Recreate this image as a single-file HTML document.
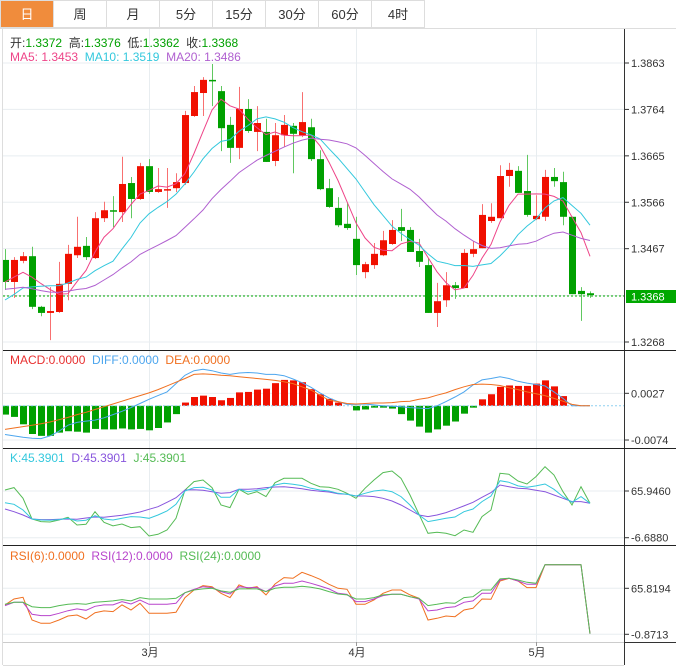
<!DOCTYPE html>
<html><head><meta charset="utf-8">
<style>
html,body{margin:0;padding:0;background:#fff;}
body{width:676px;height:671px;overflow:hidden;font-family:"Liberation Sans","Noto Sans CJK SC",sans-serif;}
svg{display:block;}
</style></head>
<body>
<svg id="chart" width="676" height="671" viewBox="0 0 676 671" xmlns="http://www.w3.org/2000/svg" font-family="Liberation Sans, Noto Sans CJK SC, sans-serif">
  <g id="tabs"></g>
  <g id="grid"></g>
  <g id="main"></g>
  <g id="macd"></g>
  <g id="kdj"></g>
  <g id="rsi"></g>
  <g id="axes"></g>
</svg>
<script>
const tabLabels = ["日","周","月","5分","15分","30分","60分","4时"];
const opens  = [1.3443,1.3396,1.3441,1.3451,1.3343,1.3330,1.3332,1.3392,1.3453,1.3473,1.3447,1.3532,1.3549,1.3545,1.3607,1.3573,1.3643,1.3588,1.3592,1.3596,1.3607,1.3750,1.3799,1.3827,1.3803,1.3731,1.3682,1.3765,1.3716,1.3716,1.3654,1.3709,1.3729,1.3709,1.3726,1.3658,1.3596,1.3554,1.3520,1.3488,1.3417,1.3432,1.3453,1.3477,1.3513,1.3507,1.3462,1.3432,1.3330,1.3357,1.3389,1.3383,1.3456,1.3468,1.3526,1.3532,1.3622,1.3633,1.3590,1.3530,1.3535,1.3620,1.3609,1.3535,1.3377,1.3372];
const highs  = [1.3466,1.3449,1.3460,1.3471,1.3345,1.3385,1.3439,1.3475,1.3535,1.3492,1.3545,1.3567,1.3579,1.3663,1.3620,1.3650,1.3658,1.3639,1.3639,1.3628,1.3761,1.3814,1.3833,1.3861,1.3814,1.3748,1.3812,1.3786,1.3771,1.3744,1.3735,1.3752,1.3735,1.3801,1.3744,1.3677,1.3616,1.3577,1.3564,1.3535,1.3439,1.3479,1.3505,1.3528,1.3552,1.3513,1.3488,1.3447,1.3394,1.3417,1.3396,1.3466,1.3483,1.3562,1.3564,1.3645,1.3650,1.3643,1.3667,1.3581,1.3635,1.3639,1.3631,1.3535,1.3385,1.3376];
const lows   = [1.3379,1.3362,1.3436,1.3338,1.3323,1.3272,1.3330,1.3357,1.3447,1.3443,1.3445,1.3524,1.3513,1.3524,1.3532,1.3571,1.3584,1.3586,1.3554,1.3588,1.3603,1.3748,1.3750,1.3771,1.3675,1.3650,1.3658,1.3714,1.3675,1.3652,1.3643,1.3684,1.3628,1.3705,1.3654,1.3592,1.3554,1.3513,1.3507,1.3411,1.3404,1.3424,1.3451,1.3475,1.3483,1.3460,1.3428,1.3330,1.3300,1.3343,1.3360,1.3383,1.3449,1.3468,1.3522,1.3532,1.3599,1.3586,1.3535,1.3528,1.3526,1.3599,1.3517,1.3370,1.3313,1.3362];
const closes = [1.3396,1.3443,1.3451,1.3343,1.3330,1.3334,1.3392,1.3456,1.3471,1.3449,1.3532,1.3549,1.3547,1.3605,1.3573,1.3643,1.3588,1.3594,1.3594,1.3609,1.3752,1.3801,1.3827,1.3825,1.3724,1.3682,1.3765,1.3718,1.3735,1.3652,1.3709,1.3731,1.3712,1.3737,1.3658,1.3594,1.3556,1.3517,1.3511,1.3432,1.3434,1.3456,1.3485,1.3507,1.3505,1.3460,1.3439,1.3330,1.3355,1.3389,1.3383,1.3458,1.3466,1.3539,1.3535,1.3622,1.3635,1.3586,1.3539,1.3537,1.3620,1.3611,1.3535,1.3370,1.3370,1.3368];
const priorCloses = [1.3410,1.3398,1.3405,1.3412,1.3400,1.3395,1.3408,1.3403,1.3406,1.3399,1.3322,1.3315,1.3320,1.3318,1.3321,1.3390,1.3400,1.3395,1.3398];
const priceTicks = [1.3863,1.3764,1.3665,1.3566,1.3467,1.3268];
const macdHist = [-19,-24,-40,-61,-65,-65,-58,-55,-56,-58,-50,-51,-51,-49,-51,-50,-53,-48,-36,-18,7,19,22,19,12,17,29,30,35,37,49,56,55,51,36,25,15,7,0,-10,-8,-4,-4,-6,-18,-32,-45,-58,-51,-43,-34,-17,-4,14,25,41,44,43,43,48,55,42,21,0,0,0];
const macdDiff = [-62,-65,-68,-70,-71,-65,-55,-42,-36,-33,-31,-26,-19,-12,-4,5,14,22,30,48,66,76,79,76,71,68,71,72,71,68,68,65,58,50,40,28,17,9,3,3,4,2,0,-1,-2,-4,-5,-6,0,9,19,30,45,56,59,63,59,53,49,46,43,30,16,0,0,0];
const macdDea = [-51,-48,-45,-42,-39,-35,-30,-25,-19,-14,-8,-2,4,10,16,22,28,35,43,51,59,68,69,68,66,65,63,61,59,57,55,52,48,41,34,23,12,9,5,4,5,6,6,7,9,10,14,17,23,28,35,41,46,47,46,44,39,35,30,26,22,16,10,3,0,0];
const macdTicks = [0.0027,-0.0074];
const kVals = [47.8,45.2,36.4,22.4,20.9,20.4,21.4,23.5,19.3,20.4,27.6,22.4,20.9,23.5,26.1,25.5,23.5,28.7,34.9,45.2,66.0,71.2,71.7,67.5,56.1,56.1,68.6,64.9,67.0,68.6,75.3,77.9,76.3,74.3,70.1,67.5,66.0,62.3,60.8,58.2,62.3,66.0,67.5,64.9,57.2,44.2,28.7,18.3,20.9,23.5,25.5,33.8,38.0,49.4,58.2,82.0,79.4,73.8,71.7,73.8,76.9,68.6,57.2,48.4,57.2,46.8];
const dVals = [38.0,33.8,28.7,22.4,21.4,21.4,21.9,22.4,21.9,24.0,25.5,25.0,26.6,28.1,30.7,33.3,37.5,41.6,48.4,55.6,67.5,68.0,67.0,64.9,62.3,63.4,68.6,68.6,69.6,71.2,72.2,72.7,71.2,69.6,67.0,65.5,64.4,61.8,60.8,58.2,58.2,57.2,54.6,50.4,44.2,36.4,28.7,26.1,28.7,32.3,37.5,42.7,48.4,56.1,63.4,75.3,72.7,70.1,69.6,67.0,64.9,59.8,54.6,49.4,49.4,46.8];
const jVals = [67.5,71.2,54.6,22.4,18.3,17.8,20.9,25.0,13.1,14.1,33.8,17.3,11.6,14.7,9.0,10.5,-4.0,-1.4,5.3,23.5,67.5,80.5,83.1,71.2,44.2,40.1,68.6,60.8,64.9,57.2,78.9,85.7,85.7,85.7,77.9,72.7,71.7,68.6,62.3,54.6,70.1,83.1,94.5,97.1,85.7,59.8,29.7,0.2,1.7,0.2,-3.5,5.3,1.7,26.1,36.4,93.4,91.9,81.5,76.9,88.3,103.8,90.9,64.9,44.2,72.7,46.8];
const kdjTicks = [65.9460,-6.6880];
const rsi6 = [41.7,50.3,52.8,19.9,15.1,15.1,19.9,25.7,27.1,21.3,30.5,33.0,32.0,41.7,34.4,44.1,29.6,29.6,29.6,31.0,52.3,63.4,69.7,68.2,58.6,52.3,70.7,65.8,68.2,56.2,72.1,81.3,80.3,89.0,84.2,78.9,71.6,65.8,64.4,42.6,42.6,48.9,58.6,63.4,63.4,56.2,51.3,19.9,22.3,25.7,24.7,34.4,36.8,50.3,49.9,76.4,80.3,76.4,66.8,66.8,100,100,100,100,100,0];
const rsi12 = [40.7,45.5,45.5,28.1,26.2,26.2,29.6,33.4,35.9,33.9,39.7,41.7,41.7,46.5,43.1,48.9,42.6,42.6,42.6,44.1,59.5,64.4,68.2,66.8,61.0,57.6,68.2,66.8,66.8,61.0,69.2,73.1,73.1,76.4,73.1,69.2,64.9,58.6,57.1,46.5,46.5,50.3,55.2,57.1,57.1,53.7,50.3,33.0,34.4,37.8,39.2,45.5,47.5,58.6,58.6,77.9,80.3,76.4,71.6,71.6,100,100,100,100,100,0];
const rsi24 = [42.6,45.5,45.5,39.2,37.8,37.8,40.7,42.6,43.6,42.6,45.5,46.5,47.5,49.4,47.5,52.3,50.3,50.3,50.3,51.3,59.5,63.4,64.9,65.8,62.0,60.0,64.9,64.9,64.9,61.0,65.8,67.3,67.3,68.7,67.3,64.9,61.0,57.6,56.2,50.3,50.3,52.3,56.2,57.1,57.1,53.7,51.3,40.7,42.6,45.0,44.1,52.3,53.7,63.4,63.4,79.4,80.3,77.9,74.5,73.1,100,100,100,100,100,0];
const rsiTicks = [65.8194,-0.8713];
const monthLabels = ["3月","4月","5月"];
const monthIdx = [16,39,59];

const NS="http://www.w3.org/2000/svg";
function mk(parent,tag,attrs,text){const e=document.createElementNS(NS,tag);for(const k in attrs)e.setAttribute(k,attrs[k]);if(text!==undefined)e.textContent=text;parent.appendChild(e);return e;}
const X = i => 5 + 9*i;
const priceY = p => 63 + (1.3863 - p)*4689;
const macdY = v => 405.8 - v*4624;
const kdjY = v => 491 + (65.946 - v)/1.555;
const rsiY = v => 588.3 + (65.8194 - v)/1.45;

// tabs
const tabs=document.getElementById('tabs');
tabLabels.forEach((t,i)=>{
  const x=i*53;
  const r=mk(tabs,'rect',{x:x+0.5,y:0.5,width:53,height:27,fill:i===0?'#f08c3c':'#fff',stroke:'#ddd'});
  
  
  const tx=mk(tabs,'text',{x:x+27,y:19,'text-anchor':'middle','font-size':13,fill:i===0?'#fff':'#333'},t);
  
  
});
mk(tabs,'line',{x1:0,y1:28.5,x2:676,y2:28.5,stroke:'#ddd'});

// grid
const grid=document.getElementById('grid');
priceTicks.forEach(p=>mk(grid,'line',{x1:3,x2:624,y1:priceY(p),y2:priceY(p),stroke:'#e8edf0'}));
mk(grid,'line',{x1:3,x2:624,y1:295.5,y2:295.5,stroke:'#e8edf0'});
macdTicks.forEach(v=>mk(grid,'line',{x1:3,x2:624,y1:macdY(v*1),y2:macdY(v*1),stroke:'#e8edf0'}));
kdjTicks.forEach(v=>mk(grid,'line',{x1:3,x2:624,y1:kdjY(v),y2:kdjY(v),stroke:'#e8edf0'}));
rsiTicks.forEach(v=>mk(grid,'line',{x1:3,x2:624,y1:rsiY(v),y2:rsiY(v),stroke:'#e8edf0'}));
monthIdx.forEach(i=>mk(grid,'line',{x1:X(i)+0.5,x2:X(i)+0.5,y1:29,y2:642,stroke:'#e8edf0'}));

// main candles
const main=document.getElementById('main');
mk(main,'line',{x1:3,x2:624,y1:296,y2:296,stroke:'#00a800','stroke-dasharray':'2,2'});
closes.forEach((c,i)=>{
  const o=opens[i],up=c>=o,x=X(i);
  const col=up?'#f01000':'#00a000', wcol=up?'#f87070':'#60c860';
  const w=mk(main,'line',{x1:x+0.5,x2:x+0.5,y1:priceY(highs[i]),y2:priceY(lows[i]),stroke:wcol});
  
  
  const top=priceY(Math.max(o,c)),bot=priceY(Math.min(o,c));
  const b=mk(main,'rect',{x:x-3,y:top,width:7,height:Math.max(1.5,bot-top),fill:col});
  
  
});
const all=priorCloses.concat(closes);
function ma(n){return closes.map((_,i)=>{let s=0;for(let k=0;k<n;k++)s+=all[i+priorCloses.length-k];return s/n;});}
[[5,'#ee4488'],[10,'#33c8dd'],[20,'#b060d0']].forEach(([n,col])=>{
  const v=ma(n);
  const l=mk(main,'polyline',{points:v.map((p,i)=>X(i)+','+priceY(p).toFixed(1)).join(' '),fill:'none',stroke:col,'stroke-width':1});
  
  
});
let t1=mk(main,'text',{x:10,y:47,'font-size':12,fill:'#333'});
[['开:','1.3372'],['  高:','1.3376'],['  低:','1.3362'],['  收:','1.3368']].forEach(([a,b])=>{mk(t1,'tspan',{fill:'#333','xml:space':'preserve'},a.replace(/ /g,'\u00a0'));mk(t1,'tspan',{fill:'#00a000'},b);});


let t2=mk(main,'text',{x:10,y:61,'font-size':12});
mk(t2,'tspan',{fill:'#ee4488'},'MA5: 1.3453\u00a0\u00a0');mk(t2,'tspan',{fill:'#33c8dd'},'MA10: 1.3519\u00a0\u00a0');mk(t2,'tspan',{fill:'#b060d0'},'MA20: 1.3486');



// MACD
const macd=document.getElementById('macd');
macdHist.forEach((h,i)=>{
  const v=h*1e-4,y0=macdY(0),y1=macdY(v);
  const r=mk(macd,'rect',{x:X(i)-3,y:Math.min(y0,y1),width:7,height:Math.max(0.01,Math.abs(y1-y0)),fill:h>=0?'#f01000':'#00a000'});
  
  
});
mk(macd,'line',{x1:3,x2:624,y1:macdY(0),y2:macdY(0),stroke:'#8fd0f0','stroke-dasharray':'2,2'});
[[macdDiff,'#4da6ee','diff-line'],[macdDea,'#f07020','dea-line']].forEach(([arr,col,nm])=>{
  const l=mk(macd,'polyline',{points:arr.map((v,i)=>X(i)+','+macdY(v*1e-4).toFixed(1)).join(' '),fill:'none',stroke:col});
  
  
});
let t3=mk(macd,'text',{x:10,y:364,'font-size':12});
mk(t3,'tspan',{fill:'#e83030'},'MACD:0.0000\u00a0\u00a0');mk(t3,'tspan',{fill:'#4da6ee'},'DIFF:0.0000\u00a0\u00a0');mk(t3,'tspan',{fill:'#f07020'},'DEA:0.0000');



// KDJ
const kdj=document.getElementById('kdj');
[[jVals,'#55bb55','j-line'],[dVals,'#8855dd','d-line'],[kVals,'#33c8dd','k-line']].forEach(([arr,col,nm])=>{
  const l=mk(kdj,'polyline',{points:arr.map((v,i)=>X(i)+','+kdjY(v).toFixed(1)).join(' '),fill:'none',stroke:col});
  
  
});
let t4=mk(kdj,'text',{x:10,y:462,'font-size':12});
mk(t4,'tspan',{fill:'#33c8dd'},'K:45.3901\u00a0\u00a0');mk(t4,'tspan',{fill:'#8855dd'},'D:45.3901\u00a0\u00a0');mk(t4,'tspan',{fill:'#55bb55'},'J:45.3901');



// RSI
const rsi=document.getElementById('rsi');
[[rsi6,'#f07020','rsi6-line'],[rsi12,'#b844cc','rsi12-line'],[rsi24,'#55bb55','rsi24-line']].forEach(([arr,col,nm])=>{
  const l=mk(rsi,'polyline',{points:arr.map((v,i)=>X(i)+','+rsiY(v).toFixed(1)).join(' '),fill:'none',stroke:col});
  
  
});
let t5=mk(rsi,'text',{x:10,y:560,'font-size':12});
mk(t5,'tspan',{fill:'#f07020'},'RSI(6):0.0000\u00a0\u00a0');mk(t5,'tspan',{fill:'#b844cc'},'RSI(12):0.0000\u00a0\u00a0');mk(t5,'tspan',{fill:'#55bb55'},'RSI(24):0.0000');



// axes & separators
const axes=document.getElementById('axes');
mk(axes,'line',{x1:2.5,x2:2.5,y1:29,y2:665,stroke:'#ddd'});
mk(axes,'line',{x1:624.5,x2:624.5,y1:29,y2:665,stroke:'#333'});
[350,448,545].forEach(y=>mk(axes,'line',{x1:3,x2:676,y1:y+0.5,y2:y+0.5,stroke:'#222'}));
mk(axes,'line',{x1:3,x2:624,y1:642.5,y2:642.5,stroke:'#ccc'});
mk(axes,'line',{x1:3,x2:624,y1:665.5,y2:665.5,stroke:'#ddd'});
mk(axes,'line',{x1:624,x2:676,y1:642.5,y2:642.5,stroke:'#333'});
function ytick(y,label){
  mk(axes,'line',{x1:625,x2:629,y1:y,y2:y,stroke:'#333'});
  const t=mk(axes,'text',{x:631,y:y+4,'font-size':11,fill:'#333'},label);
  
  
}
priceTicks.forEach(p=>ytick(priceY(p),p.toFixed(4)));
macdTicks.forEach(v=>ytick(macdY(v),v.toFixed(4)));
kdjTicks.forEach(v=>ytick(kdjY(v),v.toFixed(4)));
rsiTicks.forEach(v=>ytick(rsiY(v),v.toFixed(4)));
const box=mk(axes,'rect',{x:626,y:290,width:50,height:13,fill:'#00a800'});


mk(axes,'text',{x:631,y:300.5,'font-size':11,fill:'#fff'},closes[closes.length-1].toFixed(4));
monthIdx.forEach((i,k)=>{
  mk(axes,'line',{x1:X(i)+0.5,x2:X(i)+0.5,y1:642,y2:646,stroke:'#999'});
  const t=mk(axes,'text',{x:X(i)+1,y:656,'font-size':11,fill:'#333','text-anchor':'middle'},monthLabels[k]);
  
  
});
</script>
</body></html>
